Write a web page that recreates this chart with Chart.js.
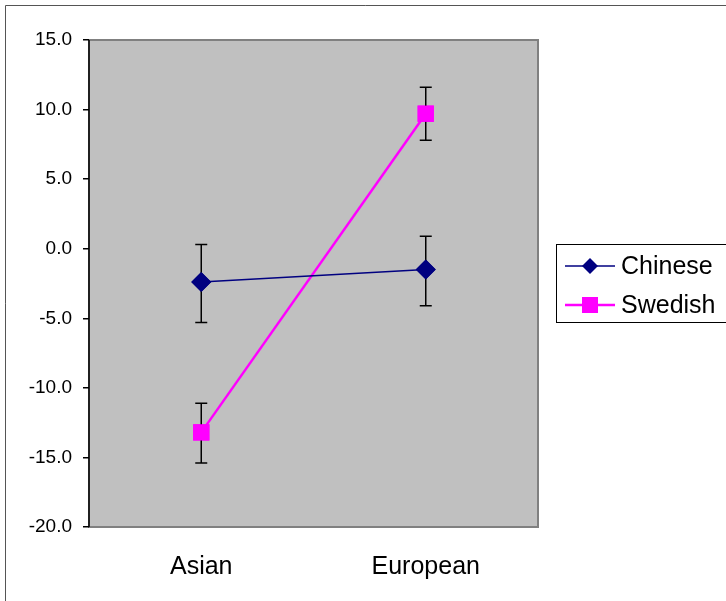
<!DOCTYPE html>
<html>
<head>
<meta charset="utf-8">
<script src="https://cdn.jsdelivr.net/npm/chart.js@4"></script>
<style>
  body { margin: 0; background: #fff; }
  #wrap { width: 726px; height: 601px; position: relative; }
</style>
</head>
<body>
<div id="wrap"><canvas id="chart" width="726" height="601"></canvas></div>
<script>
var categories = ["Asian", "European"];
var chinese = [-2.4, -1.5];
var swedish = [-13.2, 9.7];
// error bar ends (low / high)
var chineseLow = [-5.3, -4.1];
var chineseHigh = [0.3, 0.9];
var swedishLow = [-15.4, 7.8];
var swedishHigh = [-11.1, 11.6];
var yTicks = [15, 10, 5, 0, -5, -10, -15, -20];

var font = "Arial, 'Liberation Sans', sans-serif";

// white background, outer frame, grey plot area
var backdrop = {
  id: "backdrop",
  beforeDraw: function (chart) {
    var c = chart.ctx, a = chart.chartArea;
    c.save();
    c.fillStyle = "#fff";
    c.fillRect(0, 0, chart.width, chart.height);
    c.strokeStyle = "#555";
    c.lineWidth = 1;
    c.beginPath();
    c.moveTo(5.5, chart.height);
    c.lineTo(5.5, 5.5);
    c.lineTo(chart.width, 5.5);
    c.stroke();
    c.fillStyle = "#c0c0c0";
    c.fillRect(a.left, a.top, a.right - a.left, a.bottom - a.top);
    c.strokeStyle = "#808080";
    c.lineWidth = 2;
    c.strokeRect(a.left, a.top, a.right - a.left, a.bottom - a.top);
    c.restore();
  },
  afterDraw: function (chart) {
    // left axis line on top of the border
    var c = chart.ctx, a = chart.chartArea;
    c.save();
    c.strokeStyle = "#000";
    c.lineWidth = 1.5;
    c.beginPath();
    c.moveTo(a.left, a.top);
    c.lineTo(a.left, a.bottom);
    c.stroke();
    c.restore();
  }
};

// error bars with caps
var errorBars = {
  id: "errorBars",
  afterDatasetsDraw: function (chart) {
    var c = chart.ctx;
    var y = chart.scales.y;
    var lows = [chineseLow, swedishLow];
    var highs = [chineseHigh, swedishHigh];
    c.save();
    c.strokeStyle = "#000";
    c.lineWidth = 1.5;
    chart.data.datasets.forEach(function (ds, i) {
      chart.getDatasetMeta(i).data.forEach(function (pt, j) {
        var x = pt.x, y1 = y.getPixelForValue(lows[i][j]), y2 = y.getPixelForValue(highs[i][j]);
        c.beginPath();
        c.moveTo(x, y1); c.lineTo(x, y2);
        c.moveTo(x - 6, y1); c.lineTo(x + 6, y1);
        c.moveTo(x - 6, y2); c.lineTo(x + 6, y2);
        c.stroke();
      });
    });
    c.restore();
    // redraw points on top of bars
    chart.data.datasets.forEach(function (ds, i) {
      chart.getDatasetMeta(i).data.forEach(function (pt) {
        pt.draw(c, chart.chartArea);
      });
    });
  }
};

// boxed legend on the right
var boxLegend = {
  id: "boxLegend",
  afterDraw: function (chart) {
    var c = chart.ctx;
    var left = 556.5, top = 244.5, right = 726, bottom = 322.5;
    c.save();
    c.fillStyle = "#fff";
    c.fillRect(left, top, right - left, bottom - top);
    c.strokeStyle = "#000";
    c.lineWidth = 1;
    c.strokeRect(left, top, right - left + 2, bottom - top);
    c.font = "25px " + font;
    c.textBaseline = "middle";
    var rows = [266, 305];
    chart.data.datasets.forEach(function (ds, i) {
      var yy = rows[i];
      c.strokeStyle = ds.borderColor;
      c.lineWidth = ds.borderWidth;
      c.beginPath();
      c.moveTo(565, yy); c.lineTo(615, yy);
      c.stroke();
      c.fillStyle = ds.backgroundColor;
      c.beginPath();
      if (ds.pointStyle === "rectRot") {
        var r = 8;
        c.moveTo(590, yy - r); c.lineTo(590 + r, yy); c.lineTo(590, yy + r); c.lineTo(590 - r, yy);
      } else {
        c.rect(582, yy - 8, 16, 16);
      }
      c.closePath();
      c.fill();
      c.fillStyle = "#000";
      c.fillText(ds.label, 621, yy + 1);
    });
    c.restore();
  }
};

new Chart(document.getElementById("chart"), {
  type: "line",
  data: {
    labels: categories,
    datasets: [
      {
        label: "Chinese",
        data: chinese,
        borderColor: "#000080",
        backgroundColor: "#000080",
        borderWidth: 1.5,
        pointStyle: "rectRot",
        pointRadius: 10,
        pointBorderWidth: 0
      },
      {
        label: "Swedish",
        data: swedish,
        borderColor: "#ff00ff",
        backgroundColor: "#ff00ff",
        borderWidth: 2.5,
        pointStyle: "rect",
        pointRadius: 11.5,
        pointBorderWidth: 0
      }
    ]
  },
  plugins: [backdrop, errorBars, boxLegend],
  options: {
    responsive: false,
    animation: false,
    devicePixelRatio: 1,
    layout: { padding: { top: 40, right: 188, left: 0, bottom: 0 } },
    plugins: {
      legend: { display: false },
      tooltip: { enabled: false }
    },
    scales: {
      x: {
        offset: true,
        grid: { display: false, drawTicks: false },
        border: { display: false },
        ticks: { color: "#000", padding: 25, font: { size: 25, family: font } },
        afterFit: function (s) { s.height = 74; }
      },
      y: {
        min: -20,
        max: 15,
        afterBuildTicks: function (s) {
          s.ticks = yTicks.map(function (v) { return { value: v }; });
        },
        grid: { drawOnChartArea: false, tickLength: 6, color: "#000", lineWidth: 1.5 },
        border: { display: false },
        ticks: {
          color: "#000",
          padding: 11,
          font: { size: 19, family: font },
          callback: function (v) { return Number(v).toFixed(1); }
        },
        afterFit: function (s) { s.width = 89; }
      }
    }
  }
});
</script>
</body>
</html>
